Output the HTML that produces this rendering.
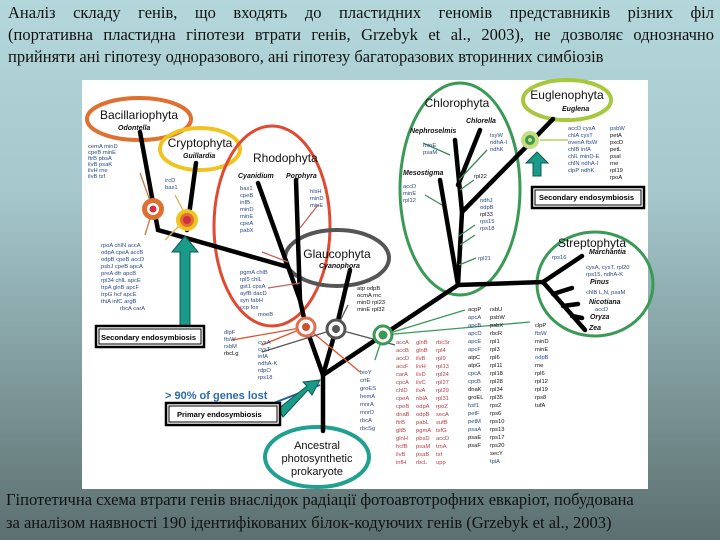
<!DOCTYPE html>
<html><head><meta charset="utf-8"><style>
html,body{margin:0;padding:0;}
body{width:720px;height:540px;overflow:hidden;position:relative;background:linear-gradient(180deg,#b3d7db 0%,#a6c8cc 35%,#7f9a9c 70%,#5c6f70 100%);font-family:"Liberation Serif",serif;}
.t{position:absolute;left:8px;width:706px;font-size:16.5px;line-height:22px;color:#111;text-align:justify;text-align-last:justify;}
.c{position:absolute;left:6px;width:710px;font-size:16.5px;line-height:23px;color:#111;}
svg{position:absolute;left:0;top:0;}
svg text{font-family:"Liberation Sans",sans-serif;}
</style></head><body>
<div class="t" style="top:2px;">Аналіз складу генів, що входять до пластидних геномів представників різних філ<br>(портативна пластидна гіпотези втрати генів, Grzebyk et al., 2003), не дозволяє однозначно</div>
<div class="t" style="top:46px;text-align-last:left;">прийняти ані гіпотезу одноразового, ані гіпотезу багаторазових вторинних симбіозів</div>
<div class="c" style="top:488px;">Гіпотетична схема втрати генів внаслідок радіації фотоавтотрофних евкаріот, побудована<br>за аналізом наявності 190 ідентифікованих білок-кодуючих генів (Grzebyk et al., 2003)</div>
<svg width="720" height="540" viewBox="0 0 720 540">
<rect x="82" y="80" width="566" height="409" fill="#fff"/>
<ellipse cx="139" cy="119" rx="52" ry="21" fill="none" stroke="#e07030" stroke-width="4"/>
<ellipse cx="200" cy="149" rx="40" ry="21" fill="none" stroke="#f0c420" stroke-width="4"/>
<ellipse cx="272" cy="226" rx="58" ry="100" fill="none" stroke="#e04a30" stroke-width="3"/>
<ellipse cx="460" cy="189" rx="60" ry="106" fill="none" stroke="#3a9a55" stroke-width="3"/>
<ellipse cx="567" cy="100" rx="44" ry="20" fill="none" stroke="#a6c83c" stroke-width="4"/>
<ellipse cx="337" cy="258" rx="52" ry="28" fill="none" stroke="#555" stroke-width="4"/>
<ellipse cx="595" cy="284" rx="58" ry="52" fill="none" stroke="#3a9a55" stroke-width="3"/>
<ellipse cx="317" cy="457" rx="52" ry="30" fill="none" stroke="#20a090" stroke-width="4"/>
<g stroke="#000" stroke-width="4.5" fill="none" stroke-linecap="round">
<path d="M323,431 L323,375 L306,327 L300,300 L296,180"/>
<path d="M300,300 L258,183"/>
<path d="M140,132 L158,230 L288,267"/>
<path d="M196,163 L187,230"/>
<path d="M323,375 L336,329 L350,270"/>
<path d="M323,375 L383,335 L458,285"/>
<path d="M458,285 L462,212 L455,140"/>
<path d="M458,185 L480,130"/>
<path d="M458,285 L440,180"/>
<path d="M462,212 L525,148 L553,119"/>
<path d="M458,285 L543,282 L585,330"/>
<path d="M543,282 L582,256 M553,294 L572,288 M563,306 L578,304 M572,316 L582,318"/>
</g>
<g stroke-width="1.3" fill="none">
<path d="M153,209 L140,173" stroke="#c87848"/><path d="M153,209 L145,235" stroke="#c87848"/>
<path d="M187,218 L175,195" stroke="#e0b040"/><path d="M187,218 L165,240" stroke="#e0b040"/>
<path d="M306,327 L232,340 M306,327 L262,345 M306,327 L360,372" stroke="#e05030"/>
<path d="M336,329 L262,352 M336,329 L395,345 M336,329 L348,305" stroke="#555"/>
<path d="M383,335 L465,310 M383,335 L530,322 M383,335 L375,360" stroke="#3a9a55"/>
<path d="M300,283 L268,288 M288,262 L262,252 M300,228 L318,205" stroke="#c86060"/>
<path d="M460,245 L475,235 M459,180 L487,150 M450,155 L423,143 M442,205 L425,195 M459,236 L475,225 M459,265 L476,258 M460,190 L474,180" stroke="#3a8a55"/>
<path d="M540,140 L568,140" stroke="#a6c83c"/>
<path d="M320,385 L230,420" stroke="#2060a0" stroke-width="2"/>
</g>
<g>
<circle cx="153" cy="209" r="11" fill="#e07030"/><circle cx="153" cy="209" r="6" fill="#fff"/><circle cx="153" cy="209" r="3.5" fill="#d03040"/>
<circle cx="187" cy="220" r="11" fill="#f0c420"/><circle cx="187" cy="220" r="7" fill="#e07030"/><circle cx="187" cy="220" r="4" fill="#d03040"/>
<circle cx="306" cy="327" r="9" fill="#fff" stroke="#e07050" stroke-width="3"/><circle cx="306" cy="327" r="4" fill="#d05030"/>
<circle cx="336" cy="329" r="9" fill="#fff" stroke="#555" stroke-width="3"/><circle cx="336" cy="329" r="4" fill="#555"/>
<circle cx="383" cy="335" r="9" fill="#fff" stroke="#3a9a55" stroke-width="3"/><circle cx="383" cy="335" r="4.5" fill="#3a9a55"/>
<circle cx="530" cy="140" r="9" fill="#c8dc80"/><circle cx="530" cy="140" r="5" fill="#3a9a55"/><circle cx="530" cy="140" r="2" fill="#c8dc80"/>
</g>
<g fill="#1a9a88" stroke="#0c5a50" stroke-width="1">
<polygon points="180,326 190,326 190,252 198,252 185,236 172,252 180,252"/>
<polygon points="533,176 541,176 541,163 548,163 537,152 526,163 533,163"/>
<polygon points="278,409 283,417 308,390 312,395 320,380 303,382 307,386"/>
</g>
<g fill="#fff" stroke="#000">
<rect x="96" y="326" width="108" height="21" stroke-width="2.5"/><rect x="99" y="329" width="102" height="15" stroke-width="1"/>
<rect x="166" y="403" width="114" height="22" stroke-width="2.5"/><rect x="169" y="406" width="108" height="16" stroke-width="1"/>
<rect x="532" y="187" width="112" height="21" stroke-width="2.5"/><rect x="535" y="190" width="106" height="15" stroke-width="1"/>
</g>
<g font-size="7.5" font-weight="bold" fill="#000">
<text x="101" y="340">Secondary endosymbiosis</text>
<text x="177" y="417">Primary endosymbiosis</text>
<text x="539" y="200">Secondary endosymbiosis</text>
</g>
<text x="165" y="399" font-size="11" font-weight="bold" fill="#2a6ab0">&gt; 90% of genes lost</text>
<g font-size="12" fill="#111" text-anchor="middle">
<text x="139" y="119">Bacillariophyta</text>
<text x="200" y="147">Cryptophyta</text>
<text x="253" y="162" text-anchor="start">Rhodophyta</text>
<text x="457" y="107">Chlorophyta</text>
<text x="567" y="99">Euglenophyta</text>
<text x="337" y="258">Glaucophyta</text>
<text x="592" y="247">Streptophyta</text>
<text x="317" y="449" font-size="11">Ancestral</text>
<text x="317" y="462" font-size="11">photosynthetic</text>
<text x="317" y="475" font-size="11">prokaryote</text>
</g>
<g font-size="7" font-weight="bold" font-style="italic" fill="#111">
<text x="118" y="130">Odontella</text>
<text x="183" y="158">Guillardia</text>
<text x="238" y="178">Cyanidium</text>
<text x="286" y="178">Porphyra</text>
<text x="319" y="268">Cyanophora</text>
<text x="562" y="111">Euglena</text>
<text x="410" y="133">Nephroselmis</text>
<text x="466" y="123">Chlorella</text>
<text x="403" y="175">Mesostigma</text>
<text x="589" y="254">Marchantia</text>
<text x="590" y="284">Pinus</text>
<text x="589" y="304">Nicotiana</text>
<text x="590" y="319">Oryza</text>
<text x="589" y="330">Zea</text>
</g>
<g font-size="5.8" fill="#2a4a8a">
<text x="88" y="148">cemA minD</text><text x="88" y="154">cpeB minE</text><text x="88" y="160">ftrB pbsA</text><text x="88" y="166">ilvB psaK</text><text x="88" y="172">ilvH rne</text><text x="88" y="178">ilvB tsf</text>
<text x="165" y="182">ircD</text><text x="165" y="189">bas1</text>
<text x="101" y="247">rpoA chlN accA</text><text x="101" y="254">odpA cpeA accB</text><text x="101" y="261">odpB cpeB accD</text><text x="101" y="268">psbJ cpeB apcA</text><text x="101" y="275">preA dfr apcB</text><text x="101" y="282">rpl34 chlL apcE</text><text x="101" y="289">trpA glnB apcF</text><text x="101" y="296">trpG hcf apcE</text><text x="101" y="303">thiA infC argB</text><text x="120" y="310">rbcA carA</text>
<text x="240" y="190">bas1</text><text x="240" y="197">cpeB</text><text x="240" y="204">infB</text><text x="240" y="211">minD</text><text x="240" y="218">minE</text><text x="240" y="225">cpeA</text><text x="240" y="232">pabX</text>
<text x="310" y="193">hlsH</text><text x="310" y="200">minD</text><text x="310" y="207">minE</text>
<text x="240" y="274">pgmA chlB</text><text x="240" y="281">rpl5 chlL</text><text x="240" y="288">gst1 cpsA</text><text x="240" y="295">ayfB dacD</text><text x="240" y="302">syn fabH</text><text x="240" y="309">ccp fox</text><text x="258" y="316">moeB</text>
<text x="357" y="290" fill="#111">atp odpB</text><text x="357" y="297" fill="#111">ocmA rnc</text><text x="357" y="304" fill="#111">minD rpl23</text><text x="357" y="311" fill="#111">minE rpl32</text>
<text x="224" y="334">dlpF</text><text x="224" y="341">ftsW</text><text x="224" y="348">rsbM</text><text x="224" y="355" fill="#111">rbcLg</text>
<text x="258" y="344">cysA</text><text x="258" y="351">cysT</text><text x="258" y="358">infA</text><text x="258" y="365">ndhA-K</text><text x="258" y="372">rdpO</text><text x="258" y="379">rps18</text>
<text x="360" y="374">bioY</text><text x="360" y="382">crtE</text><text x="360" y="390">groES</text><text x="360" y="398">hemA</text><text x="360" y="406">mnrA</text><text x="360" y="414">mnrD</text><text x="360" y="422">rbcA</text><text x="360" y="430">rbcSg</text>
<text x="423" y="147">minE</text><text x="423" y="154">psaM</text>
<text x="490" y="137">tsyW</text><text x="490" y="144">ndhA-I</text><text x="490" y="151">ndhK</text>
<text x="474" y="178" fill="#111">rpl22</text>
<text x="403" y="188">accD</text><text x="403" y="195">minE</text><text x="403" y="202">rpl12</text>
<text x="480" y="202">ndhJ</text><text x="480" y="209">odpB</text><text x="480" y="216" fill="#111">rpl33</text><text x="480" y="223">rps15</text><text x="480" y="230">rps18</text>
<text x="478" y="260">rpl21</text>
<text x="568" y="130">accD cysA</text><text x="568" y="137">chlA cysT</text><text x="568" y="144">ovenA ftsW</text><text x="568" y="151">chlB infA</text><text x="568" y="158">chlL minD-E</text><text x="568" y="165">chlN ndhA-I</text><text x="568" y="172">clpP ndhK</text>
<g fill="#111"><text x="610" y="130" fill="#2a4a8a">psbW</text><text x="610" y="137">petA</text><text x="610" y="144">pxcD</text><text x="610" y="151">petL</text><text x="610" y="158">psal</text><text x="610" y="165">rne</text><text x="610" y="172">rpl19</text><text x="610" y="179">rpoA</text></g>
<text x="552" y="259">rps16</text>
<text x="586" y="269">cysA, cysT, rpl20</text><text x="586" y="276">rps15, ndhA-K</text><text x="586" y="294">chlB L,N, psaM</text><text x="595" y="311">accD</text>
<g fill="#111"><text x="535" y="327">clpP</text><text x="535" y="335" fill="#2a4a8a">ftsW</text><text x="535" y="343">minD</text><text x="535" y="351">minE</text><text x="535" y="359" fill="#2a4a8a">odpB</text><text x="535" y="367">rne</text><text x="535" y="375">rpl6</text><text x="535" y="383">rpl12</text><text x="535" y="391">rpl19</text><text x="535" y="399">rps8</text><text x="535" y="407">tufA</text></g>
</g>
<g font-size="5.8" fill="#c04040">
<text x="396" y="344">accA</text><text x="416" y="344">glnB</text><text x="436" y="344">rbcSr</text>
<text x="396" y="352">accB</text><text x="416" y="352">glnB</text><text x="436" y="352">rpl4</text>
<text x="396" y="360">accD</text><text x="416" y="360">ilvB</text><text x="436" y="360">rpl9</text>
<text x="396" y="368">acsF</text><text x="416" y="368">ilvH</text><text x="436" y="368">rpl13</text>
<text x="396" y="376">carA</text><text x="416" y="376">ilvD</text><text x="436" y="376">rpl24</text>
<text x="396" y="384">cpcA</text><text x="416" y="384">ilvC</text><text x="436" y="384">rpl27</text>
<text x="396" y="392">chlD</text><text x="416" y="392">ilvA</text><text x="436" y="392">rpl29</text>
<text x="396" y="400">cpeA</text><text x="416" y="400">nblA</text><text x="436" y="400">rpl31</text>
<text x="396" y="408">cpeB</text><text x="416" y="408">odpA</text><text x="436" y="408">rpoZ</text>
<text x="396" y="416">dnaB</text><text x="416" y="416">odpB</text><text x="436" y="416">secA</text>
<text x="396" y="424">ftrB</text><text x="416" y="424">pabL</text><text x="436" y="424">sufB</text>
<text x="396" y="432">gltB</text><text x="416" y="432">pgmA</text><text x="436" y="432">tsfG</text>
<text x="396" y="440">glnH</text><text x="416" y="440">pbsD</text><text x="436" y="440">accD</text>
<text x="396" y="448">hcfB</text><text x="416" y="448">psaM</text><text x="436" y="448">trnA</text>
<text x="396" y="456">ilvB</text><text x="416" y="456">psaB</text><text x="436" y="456">tsf</text>
<text x="396" y="464">infH</text><text x="416" y="464">rbcL</text><text x="436" y="464">upp</text>
</g>
<g font-size="5.8" fill="#111">
<text x="468" y="311">acpP</text><text x="490" y="311">rsbU</text>
<text x="468" y="319" fill="#2a4a8a">apcA</text><text x="490" y="319">psbW</text>
<text x="468" y="327" fill="#2a4a8a">apcB</text><text x="490" y="327">psbX</text>
<text x="468" y="335" fill="#2a4a8a">apcD</text><text x="490" y="335">rbcR</text>
<text x="468" y="343" fill="#2a4a8a">apcE</text><text x="490" y="343">rpl1</text>
<text x="468" y="351" fill="#2a4a8a">apcF</text><text x="490" y="351">rpl3</text>
<text x="468" y="359">atpC</text><text x="490" y="359">rpl6</text>
<text x="468" y="367">atpG</text><text x="490" y="367">rpl11</text>
<text x="468" y="375" fill="#2a4a8a">cpcA</text><text x="490" y="375">rpl18</text>
<text x="468" y="383" fill="#2a4a8a">cpcB</text><text x="490" y="383">rpl28</text>
<text x="468" y="391">dnaK</text><text x="490" y="391">rpl34</text>
<text x="468" y="399">groEL</text><text x="490" y="399">rpl35</text>
<text x="468" y="407" fill="#2a4a8a">hsf1</text><text x="490" y="407">rps2</text>
<text x="468" y="415" fill="#2a4a8a">petF</text><text x="490" y="415">rps6</text>
<text x="468" y="423" fill="#2a4a8a">petM</text><text x="490" y="423">rps10</text>
<text x="468" y="431" fill="#2a4a8a">psaA</text><text x="490" y="431">rps13</text>
<text x="468" y="439">psaE</text><text x="490" y="439">rps17</text>
<text x="468" y="447">psaF</text><text x="490" y="447">rps20</text>
<text x="490" y="455">secY</text><text x="490" y="463" fill="#2a4a8a">tpiA</text>
</g>
</svg>
</body></html>
